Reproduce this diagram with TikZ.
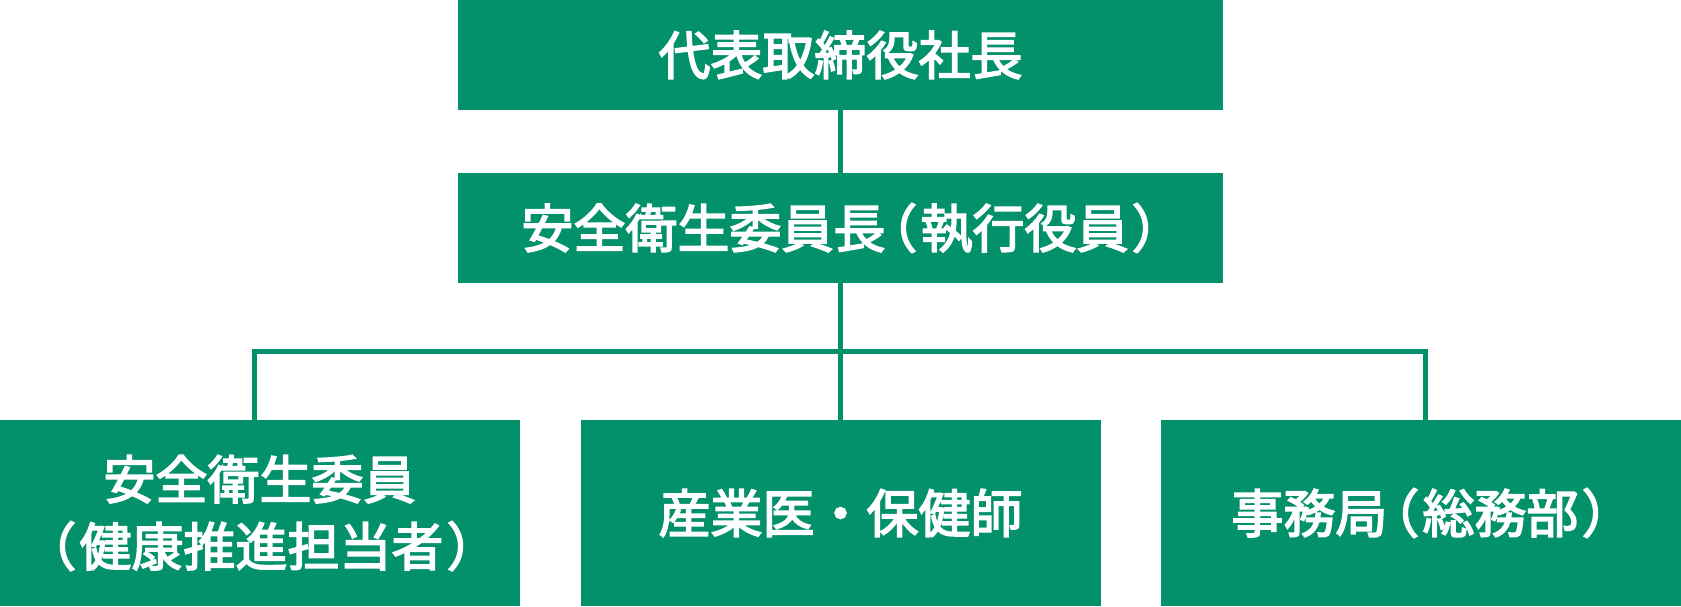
\documentclass[tikz,border=0pt]{standalone}
\usepackage{fontspec}
\newfontfamily\cjk[FakeBold=3]{Noto Sans CJK JP}
\newfontfamily\cjkprop[FakeBold=3, RawFeature=+palt]{Noto Sans CJK JP}
\newcommand\kakko[1]{\kern2pt{\cjkprop （}\kern2.5pt#1\kern2.5pt{\cjkprop ）}}
\usepackage{xcolor}
\usepackage{tikz}
\usetikzlibrary{positioning,calc}
\definecolor{orggreen}{RGB}{3,145,108}
\tikzstyle{block} = [rectangle, fill=orggreen, text=white, inner sep=0pt, outer sep=0pt,
font=\cjk\fontsize{26pt}{33.5pt}\selectfont, align=center]
\tikzstyle{headblock} = [block, minimum width=382.5pt, minimum height=55pt]
\tikzstyle{unitblock} = [block, minimum width=260pt, minimum height=93pt]
\tikzstyle{line} = [draw, orggreen, line width=2.5pt]

\begin{document}
\begin{tikzpicture}
	\useasboundingbox (0,0) rectangle (840.5pt,-303pt);
	\node [headblock] (president) at (420.25pt,-27.5pt) {代表取締役社長};
	\node [headblock, below=31.5pt of president] (chairman) {安全衛生委員長\kakko{執行役員}};
	
	
	\node [unitblock, below=68.5pt of chairman] (doctor) {産業医・保健師};
	\node [unitblock, left=30.5pt of doctor] (committee) {安全衛生委員\\\kakko{健康推進担当者}};
	\node [unitblock, right=30pt of doctor] (office) {事務局\kakko{総務部}};
	
	
	\coordinate (bus) at ($(chairman.south)!0.5!(doctor.north)$);
	
	
	\path [line] (president)--(chairman);
	\path [line] (chairman)--(doctor);
	\path [line] ([xshift=-2.5pt]committee.north) |- (bus) -| ([xshift=2.5pt]office.north);
\end{tikzpicture}
\end{document}
